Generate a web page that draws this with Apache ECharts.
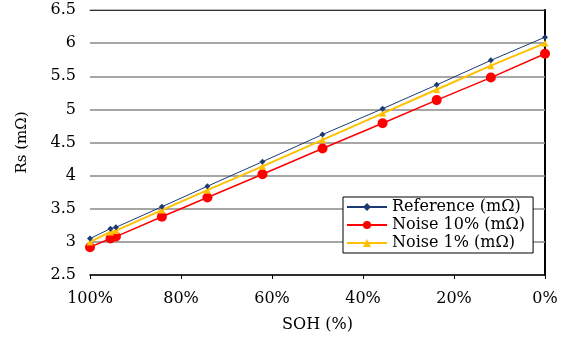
<!DOCTYPE html>
<html><head><meta charset="utf-8">
<script src="https://cdn.jsdelivr.net/npm/echarts@6/dist/echarts.min.js"></script>
<style>html,body{margin:0;padding:0;background:#fff}#c{width:571px;height:338px}</style>
</head><body><div id="c"></div>
<script>
const soh = [100, 95.5, 94.3, 84.2, 74.2, 62.1, 48.9, 35.7, 23.8, 11.9, 0];
const reference = [3.05, 3.20, 3.22, 3.53, 3.84, 4.21, 4.62, 5.01, 5.37, 5.74, 6.09];
const noise10 = [2.92, 3.05, 3.08, 3.38, 3.67, 4.02, 4.41, 4.79, 5.14, 5.48, 5.84];
const noise1 = [3.00, 3.15, 3.17, 3.48, 3.78, 4.14, 4.54, 4.94, 5.30, 5.66, 6.00];
const yGridTicks = [3, 3.5, 4, 4.5, 5, 5.5, 6];
const seriesNames = ['Reference (mΩ)', 'Noise 10% (mΩ)', 'Noise 1% (mΩ)'];
const F = '"DejaVu Serif","Liberation Serif",serif';
const pairs = a => soh.map((x, i) => [x, a[i]]);
const chart = echarts.init(document.getElementById('c'));
const hidden = {axisLabel: {show: false}, axisTick: {show: false}, splitLine: {show: false}};
chart.setOption({
  animation: false,
  backgroundColor: '#fff',
  grid: {left: 90, right: 26, top: 10, bottom: 60, show: false},
  xAxis: [{
    type: 'value', inverse: true, min: 0, max: 100, interval: 20,
    name: 'SOH (%)', nameLocation: 'middle', nameGap: 42,
    nameTextStyle: {fontFamily: F, fontSize: 16, color: '#000'},
    axisLine: {lineStyle: {color: '#000', width: 1.5}},
    axisTick: {show: true, length: 4, lineStyle: {color: '#000'}},
    axisLabel: {formatter: '{value}%', fontFamily: F, fontSize: 16, color: '#000', margin: 16},
    splitLine: {show: false}
  }, Object.assign({type: 'value', position: 'top', min: 0, max: 100,
    axisLine: {show: true, onZero: false, lineStyle: {color: '#333', width: 1}}}, hidden)],
  yAxis: [{
    type: 'value', min: 2.5, max: 6.5, interval: 0.5,
    name: 'Rs (mΩ)', nameLocation: 'middle', nameGap: 60,
    nameTextStyle: {fontFamily: F, fontSize: 15, color: '#000'},
    axisLine: {show: true, lineStyle: {color: '#000', width: 1.5}},
    axisTick: {show: false},
    axisLabel: {fontFamily: F, fontSize: 16, color: '#000', margin: 14},
    splitLine: {show: true, lineStyle: {color: '#a0a0a0', width: 1.5}}
  }, Object.assign({type: 'value', position: 'right', min: 2.5, max: 6.5,
    axisLine: {show: true, onZero: false, lineStyle: {color: '#000', width: 2}}}, hidden)],
  legend: {
    orient: 'vertical', left: 343, top: 197, width: 192, z: 100,
    backgroundColor: '#fff', borderColor: '#000', borderWidth: 1,
    padding: [2, 8, 2, 3], itemGap: 2, itemWidth: 40, itemHeight: 10,
    textStyle: {fontFamily: F, fontSize: 16, color: '#000'},
    data: seriesNames
  },
  series: [
    {name: 'grid', type: 'line', data: pairs(reference), symbol: 'none', silent: true, z: 1,
     lineStyle: {opacity: 0}, itemStyle: {opacity: 0},
     markLine: {silent: true, symbol: ['none', 'none'], label: {show: false}, z: 1,
       lineStyle: {color: '#a0a0a0', width: 1.5, type: 'solid'},
       data: yGridTicks.map(v => ({yAxis: v}))}},
    {name: seriesNames[0], type: 'line', data: pairs(reference), symbol: 'diamond', symbolSize: 6,
     lineStyle: {color: '#1f3a73', width: 1}, itemStyle: {color: '#1f3a73'}, z: 4},
    {name: seriesNames[1], type: 'line', data: pairs(noise10), symbol: 'circle', symbolSize: 10,
     lineStyle: {color: '#ff0000', width: 1.5}, itemStyle: {color: '#ff0000'}, z: 2},
    {name: seriesNames[2], type: 'line', data: pairs(noise1), symbol: 'triangle', symbolSize: 7,
     lineStyle: {color: '#ffc000', width: 2}, itemStyle: {color: '#ffc000'}, z: 3}
  ]
});
</script></body></html>
